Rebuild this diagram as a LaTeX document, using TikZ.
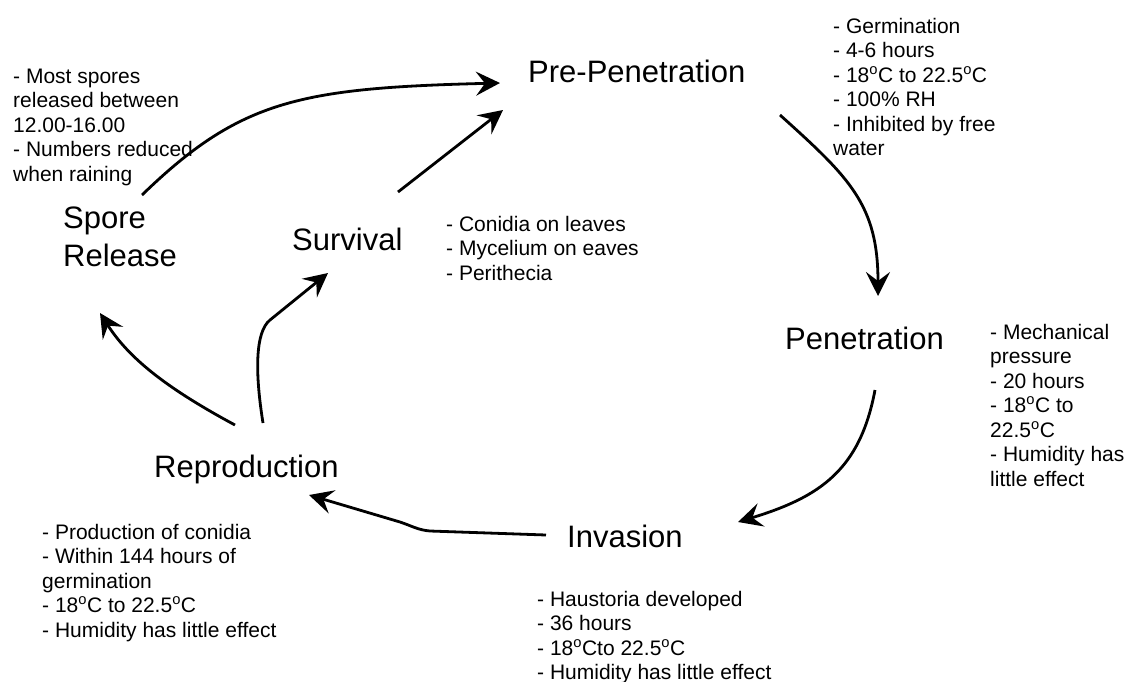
\documentclass[tikz,border=0pt]{standalone}
\usepackage{fontspec}
\setmainfont{Liberation Sans}
\usetikzlibrary{arrows.meta}
\newcommand\dg{\textsuperscript{o}}
\newcommand\notes[1]{\begin{tabular}[t]{@{}l@{}}#1\end{tabular}}

\begin{document}
\begin{tikzpicture}[x=1pt,y=-1pt,
        >={Stealth[length=24pt,width=24pt,inset=9pt]},
        stage/.style={anchor=base west,inner sep=0pt,font=\fontsize{31}{38}\selectfont},
        info/.style={anchor=base west,inner sep=0pt,font=\fontsize{21}{24.5}\selectfont},
        flow/.style={->,line width=2.8pt}]
        \useasboundingbox (0,0) rectangle (1129,681);
        % stages
        \node[stage] (prepen) at (528,82) {Pre-Penetration};
        \node[stage] (spore) at (63,228) {\notes{Spore\\Release}};
        \node[stage] (surv) at (292,250) {Survival};
        \node[stage] (pen) at (785,349) {Penetration};
        \node[stage] (inv) at (567,547) {Invasion};
        \node[stage] (repro) at (154,477) {Reproduction};
        % notes
        \node[info] (sporeinfo) at (13,83) {\notes{- Most spores\\released between\\12.00-16.00\\- Numbers reduced\\when raining}};
        \node[info] (prepeninfo) at (833,33) {\notes{- Germination\\- 4-6 hours\\- 18\dg C to 22.5\dg C\\- 100\% RH\\- Inhibited by free\\water}};
        \node[info] (survinfo) at (446,231) {\notes{- Conidia on leaves\\- Mycelium on eaves\\- Perithecia}};
        \node[info] (peninfo) at (990,339) {\notes{- Mechanical\\pressure\\- 20 hours\\- 18\dg C to\\22.5\dg C\\- Humidity has\\little effect}};
        \node[info] (invinfo) at (537,606) {\notes{- Haustoria developed\\- 36 hours\\- 18\dg Cto 22.5\dg C\\- Humidity has little effect}};
        \node[info] (reproinfo) at (42,539) {\notes{- Production of conidia\\- Within 144 hours of\\germination\\- 18\dg C to 22.5\dg C\\- Humidity has little effect}};
        % cycle
        \draw[flow] ([shift={(79,-33)}]spore.base west) .. controls +(98,-95) and +(-200,5) .. ([shift={(-28,1)}]prepen.base west);
        \draw[flow] ([shift={(106,-58)}]surv.base west) -- ([shift={(-25,28)}]prepen.base west);
        \draw[flow] ([shift={(252,33)}]prepen.base west) .. controls +(70,63) and +(0,-91) .. ([shift={(93,-53)}]pen.base west);
        \draw[flow] ([shift={(90,41)}]pen.base west) .. controls +(-15,80) and +(82,-25) .. ([shift={(171,-25)}]inv.base west);
        \draw[flow] ([shift={(-21,-12)}]inv.base west) -- ++(-116,-4) .. controls +(-12,-1) and +(12,4) .. ++(-30,-9) -- ([shift={(155,18)}]repro.base west);
        \draw[flow] ([shift={(81,-52)}]repro.base west) .. controls +(-65,-35) and +(30,47) .. ([shift={(37,85)}]spore.base west);
        \draw[flow] ([shift={(109,-54)}]repro.base west) .. controls +(-8,-50) and +(-15,12) .. ++(7,-103) -- ([shift={(36,23)}]surv.base west);
    \end{tikzpicture}
\end{document}
